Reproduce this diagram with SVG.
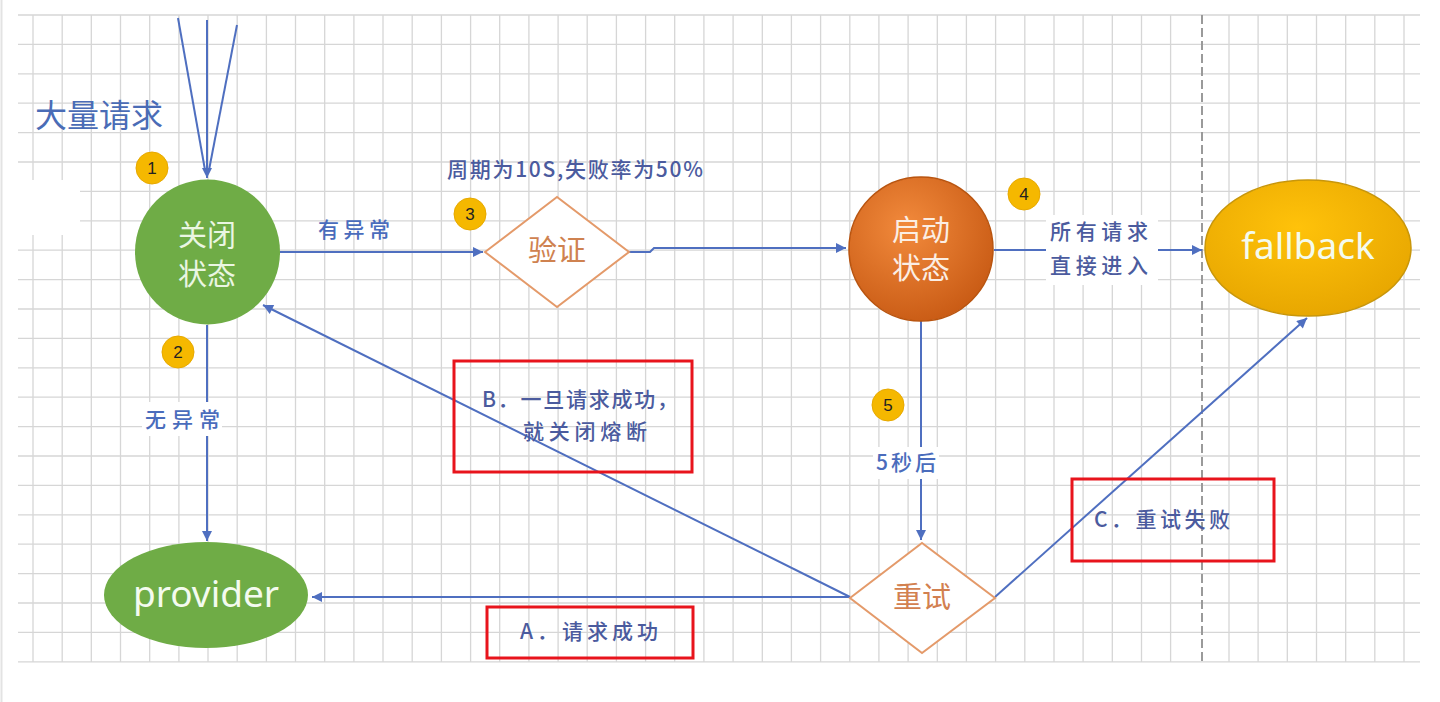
<svg xmlns="http://www.w3.org/2000/svg" width="1440" height="702" viewBox="0 0 1440 702">
<defs>
<style>
.grid{stroke:#d6d6d6;stroke-width:1.3;fill:none}
.conn{stroke:#4f6fc0;stroke-width:2;fill:none}
.lbl{font-family:"Noto Sans CJK SC","Noto Sans",sans-serif;font-size:21px;font-weight:500;fill:#4b5b9e}
.lblb{font-family:"Noto Sans CJK SC","Noto Sans",sans-serif;font-size:21px;font-weight:500;fill:#4a6cbc}
.red{fill:none;stroke:#e8141c;stroke-width:3}
.cn{font-family:"Noto Sans CJK SC","Noto Sans",sans-serif;font-size:29px;text-anchor:middle}
.en{font-family:"Noto Sans","Open Sans",sans-serif;font-size:37px;text-anchor:middle;fill:#f4fbef}
.badge{fill:#f5b800;stroke:#e7a900;stroke-width:1}
.bnum{font-family:"Liberation Sans",Arial,sans-serif;font-size:17px;fill:#222;text-anchor:middle}
.dia{fill:#ffffff;stroke:#e49a6a;stroke-width:2}
</style>
<marker id="ah" viewBox="0 0 10 10" refX="10" refY="5" markerWidth="12" markerHeight="10" markerUnits="userSpaceOnUse" orient="auto">
<path d="M0,0 L10,5 L0,10 z" fill="#4f6fc0"/>
</marker>
<radialGradient id="gOrange" cx="0.4" cy="0.35" r="0.7">
<stop offset="0" stop-color="#f28a3c"/>
<stop offset="1" stop-color="#c85a14"/>
</radialGradient>
<radialGradient id="gGold" cx="0.45" cy="0.35" r="0.7">
<stop offset="0" stop-color="#ffc20a"/>
<stop offset="1" stop-color="#e6a500"/>
</radialGradient>
</defs>
<rect x="0" y="0" width="1440" height="702" fill="#ffffff"/>
<line x1="1.5" y1="0" x2="1.5" y2="702" stroke="#e3e3e3" stroke-width="2"/>
<g id="grid">
<path class="grid" d="M33 15V662M62.2 15V662M91.3 15V662M120.5 15V662M149.7 15V662M178.9 15V662M208 15V662M237.2 15V662M266.4 15V662M295.5 15V662M324.7 15V662M353.9 15V662M383 15V662M412.2 15V662M441.4 15V662M470.6 15V662M499.7 15V662M528.9 15V662M558.1 15V662M587.2 15V662M616.4 15V662M645.6 15V662M674.7 15V662M703.9 15V662M733.1 15V662M762.3 15V662M791.4 15V662M820.6 15V662M849.8 15V662M878.9 15V662M908.1 15V662M937.3 15V662M966.4 15V662M995.6 15V662M1024.8 15V662M1054 15V662M1083.1 15V662M1112.3 15V662M1141.5 15V662M1170.6 15V662M1229 15V662M1258.1 15V662M1287.3 15V662M1316.5 15V662M1345.7 15V662M1374.8 15V662M1404 15V662"/>
<path class="grid" d="M18 15H1420M18 44.4H1420M18 73.8H1420M18 103.2H1420M18 132.6H1420M18 162H1420M18 191.4H1420M18 220.8H1420M18 250.2H1420M18 279.6H1420M18 309H1420M18 338.4H1420M18 367.8H1420M18 397.2H1420M18 426.6H1420M18 456H1420M18 485.4H1420M18 514.8H1420M18 544.2H1420M18 573.6H1420M18 603H1420M18 632.4H1420M18 661.8H1420"/>
<rect x="18" y="180" width="62" height="55" fill="#ffffff"/>
<line x1="1202" y1="15" x2="1202" y2="662" stroke="#9a9a9a" stroke-width="2" stroke-dasharray="9 4"/>
</g>
<text x="35" y="127" font-family="'Noto Sans CJK SC',sans-serif" font-size="32" fill="#4a6cb6">大量请求</text>
<g id="connectors">
<line class="conn" x1="178" y1="18" x2="205" y2="170"/>
<line class="conn" x1="237" y1="25" x2="209" y2="170"/>
<line class="conn" x1="207" y1="20" x2="207" y2="178" marker-end="url(#ah)"/>
<line class="conn" x1="280" y1="252" x2="483" y2="252" marker-end="url(#ah)"/>
<text class="lblb" x="318" y="237" textLength="72" lengthAdjust="spacing">有异常</text>
<polyline class="conn" points="629,252 650,252 654,248 846,248" marker-end="url(#ah)"/>
<line class="conn" x1="994" y1="250" x2="1202" y2="250" marker-end="url(#ah)"/>
<rect x="1046" y="215" width="112" height="70" fill="#ffffff"/>
<text class="lbl" x="1050" y="239" textLength="98" lengthAdjust="spacing">所有请求</text>
<text class="lbl" x="1050" y="273" textLength="98" lengthAdjust="spacing">直接进入</text>
<line class="conn" x1="207" y1="325" x2="207" y2="541" marker-end="url(#ah)"/>
<rect x="142" y="402" width="80" height="34" fill="#ffffff"/>
<text class="lblb" x="145" y="427" textLength="75" lengthAdjust="spacing">无异常</text>
<line class="conn" x1="921" y1="321" x2="921" y2="540" marker-end="url(#ah)"/>
<rect x="873" y="447" width="66" height="32" fill="#ffffff"/>
<text class="lblb" x="876" y="470" textLength="60" lengthAdjust="spacing">5秒后</text>
<line class="conn" x1="850" y1="597" x2="312" y2="597" marker-end="url(#ah)"/>
<line class="conn" x1="850" y1="597" x2="263" y2="305" marker-end="url(#ah)"/>
<line class="conn" x1="995" y1="597" x2="1307" y2="318" marker-end="url(#ah)"/>
<text class="lbl" x="447" y="177" textLength="256" lengthAdjust="spacing">周期为10S,失败率为50%</text>
</g>
<g id="node-close">
<circle cx="207.5" cy="252" r="72.5" fill="#6fac46"/>
<text class="cn" x="207" y="246" fill="#eaf6e2">关闭</text>
<text class="cn" x="207" y="285" fill="#eaf6e2">状态</text>
</g>
<g id="node-verify">
<polygon class="dia" points="485,252 557,197 629,252 557,307"/>
<text class="cn" x="557" y="261" fill="#cf8250">验证</text>
</g>
<g id="node-open">
<circle cx="921" cy="249" r="72" fill="url(#gOrange)" stroke="#b9540f" stroke-width="1.5"/>
<text class="cn" x="921" y="241" fill="#fbeee4">启动</text>
<text class="cn" x="921" y="279" fill="#fbeee4">状态</text>
</g>
<g id="node-fallback">
<ellipse cx="1308" cy="248" rx="103" ry="68" fill="url(#gGold)" stroke="#c8960a" stroke-width="1.5"/>
<text class="en" x="1308" y="259" fill="#fff8e0">fallback</text>
</g>
<g id="node-provider">
<ellipse cx="206" cy="595" rx="102" ry="53" fill="#6fac46"/>
<text class="en" x="206" y="607">provider</text>
</g>
<g id="node-retry">
<polygon class="dia" points="850,598 922,543 995,598 922,653"/>
<text class="cn" x="922" y="608" font-size="32" fill="#d2804f">重试</text>
</g>
<g id="note-b">
<rect class="red" x="454" y="361" width="238" height="111"/>
<text class="lbl" x="482" y="407" textLength="196" lengthAdjust="spacing">B．一旦请求成功，</text>
<text class="lbl" x="523" y="439" textLength="124" lengthAdjust="spacing">就关闭熔断</text>
</g>
<g id="note-c">
<rect class="red" x="1072" y="479" width="202" height="82"/>
<text class="lbl" x="1094" y="527" textLength="136" lengthAdjust="spacing">C．重试失败</text>
</g>
<g id="note-a">
<rect class="red" x="487" y="607" width="206" height="51"/>
<text class="lbl" x="520" y="639" textLength="138" lengthAdjust="spacing">A．请求成功</text>
</g>
<g id="badge-1"><circle class="badge" cx="152" cy="168" r="16"/><text class="bnum" x="152" y="174">1</text></g>
<g id="badge-2"><circle class="badge" cx="178" cy="352" r="16"/><text class="bnum" x="178" y="358">2</text></g>
<g id="badge-3"><circle class="badge" cx="470" cy="214" r="16"/><text class="bnum" x="470" y="220">3</text></g>
<g id="badge-4"><circle class="badge" cx="1024" cy="194" r="16"/><text class="bnum" x="1024" y="200">4</text></g>
<g id="badge-5"><circle class="badge" cx="888" cy="405" r="16"/><text class="bnum" x="888" y="411">5</text></g>
</svg>
